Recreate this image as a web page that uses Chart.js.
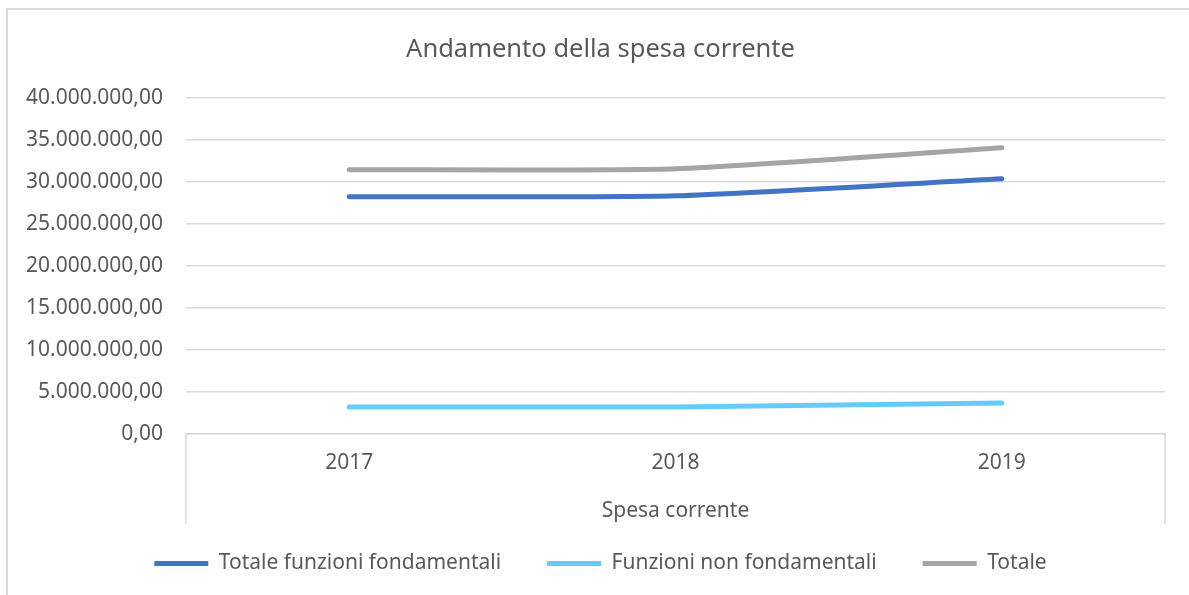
<!DOCTYPE html>
<html>
<head>
<meta charset="utf-8">
<script src="https://cdn.jsdelivr.net/npm/chart.js@4/dist/chart.umd.min.js"></script>
<style>
  html, body { margin: 0; padding: 0; background: #fff; }
  #wrap { width: 1189px; height: 595px; position: relative; }
</style>
</head>
<body>
<div id="wrap"><canvas id="chart" width="1189" height="595"></canvas></div>
<script>
// Data
const years = ['2017', '2018', '2019'];
const totaleFondamentali = [28200000, 28330000, 30360000];
const nonFondamentali = [3210000, 3220000, 3690000];
const totale = [31430000, 31550000, 34050000];
const groupLabel = 'Spesa corrente';

const fontFamily = '"Noto Sans", "Open Sans", sans-serif';
const textColor = '#595959';
const gridColor = '#D9D9D9';

function itFormat(v) {
    return v.toLocaleString('it-IT', { minimumFractionDigits: 2, maximumFractionDigits: 2 });
}

// frame around the chart plus the outer ticks of the category axis
const framePlugin = {
    id: 'frame',
    afterLayout(chart) {
        // title and legend sit a bit right of centre in the reference
        chart.legend.left += 18;
        chart.legend.right += 18;
        chart.titleBlock.left += 18;
        chart.titleBlock.right += 18;
    },
    beforeDraw(chart) {
        const ctx = chart.ctx;
        ctx.save();
        ctx.fillStyle = '#fff';
        ctx.fillRect(0, 0, chart.width, chart.height);
        ctx.strokeStyle = gridColor;
        ctx.lineWidth = 2;
        ctx.beginPath();
        ctx.moveTo(7, chart.height + 5);
        ctx.lineTo(7, 9);
        ctx.lineTo(chart.width + 5, 9);
        ctx.stroke();
        ctx.restore();
    },
    afterDraw(chart) {
        const ctx = chart.ctx;
        const a = chart.chartArea;
        ctx.save();
        ctx.strokeStyle = gridColor;
        ctx.lineWidth = 1.5;
        ctx.beginPath();
        ctx.moveTo(a.left, a.bottom);
        ctx.lineTo(a.left, a.bottom + 90);
        ctx.moveTo(a.right, a.bottom);
        ctx.lineTo(a.right, a.bottom + 90);
        ctx.stroke();
        ctx.fillStyle = textColor;
        ctx.font = '21px ' + fontFamily;
        ctx.textAlign = 'center';
        ctx.textBaseline = 'middle';
        ctx.fillText(groupLabel, (a.left + a.right) / 2, a.bottom + 77);
        ctx.restore();
    }
};

const lineStyle = (color) => ({
    borderColor: color,
    backgroundColor: color,
    borderWidth: 5,
    borderCapStyle: 'round',
    pointRadius: 0,
    pointHoverRadius: 0,
    tension: 0.2,
    fill: false
});

new Chart(document.getElementById('chart').getContext('2d'), {
    type: 'line',
    data: {
        labels: years,
        datasets: [
            Object.assign({ label: 'Totale funzioni fondamentali', data: totaleFondamentali }, lineStyle('#4472C4')),
            Object.assign({ label: 'Funzioni non fondamentali', data: nonFondamentali }, lineStyle('#66CBFA')),
            Object.assign({ label: 'Totale', data: totale }, lineStyle('#A5A5A5'))
        ]
    },
    options: {
        responsive: false,
        animation: false,
        layout: { padding: { left: 0, right: 24, top: 14, bottom: 11 } },
        plugins: {
            title: {
                display: true,
                text: 'Andamento della spesa corrente',
                color: textColor,
                font: { family: fontFamily, size: 25.5, weight: 'normal' },
                padding: { top: 20, bottom: 33 }
            },
            legend: {
                position: 'bottom',
                labels: {
                    color: textColor,
                    font: { family: fontFamily, size: 21 },
                    boxWidth: 54,
                    boxHeight: 5,
                    padding: 46,
                    generateLabels(chart) {
                        const items = Chart.defaults.plugins.legend.labels.generateLabels(chart);
                        items.forEach(i => { i.lineWidth = 0; });
                        return items;
                    }
                }
            },
            tooltip: { enabled: false }
        },
        scales: {
            x: {
                offset: true,
                grid: { display: false, drawTicks: false },
                border: { display: true, color: gridColor, width: 1.5 },
                ticks: {
                    color: textColor,
                    font: { family: fontFamily, size: 21 },
                    padding: 16
                },
                afterFit(scale) { scale.height = 73; }
            },
            y: {
                min: 0,
                max: 40000000,
                grid: { color: gridColor, lineWidth: 1.5, drawTicks: false },
                border: { display: false },
                ticks: {
                    stepSize: 5000000,
                    color: textColor,
                    font: { family: fontFamily, size: 21 },
                    padding: 23,
                    callback: v => itFormat(v)
                },
                afterFit(scale) { scale.width = 186; }
            }
        }
    },
    plugins: [framePlugin]
});
</script>
</body>
</html>
